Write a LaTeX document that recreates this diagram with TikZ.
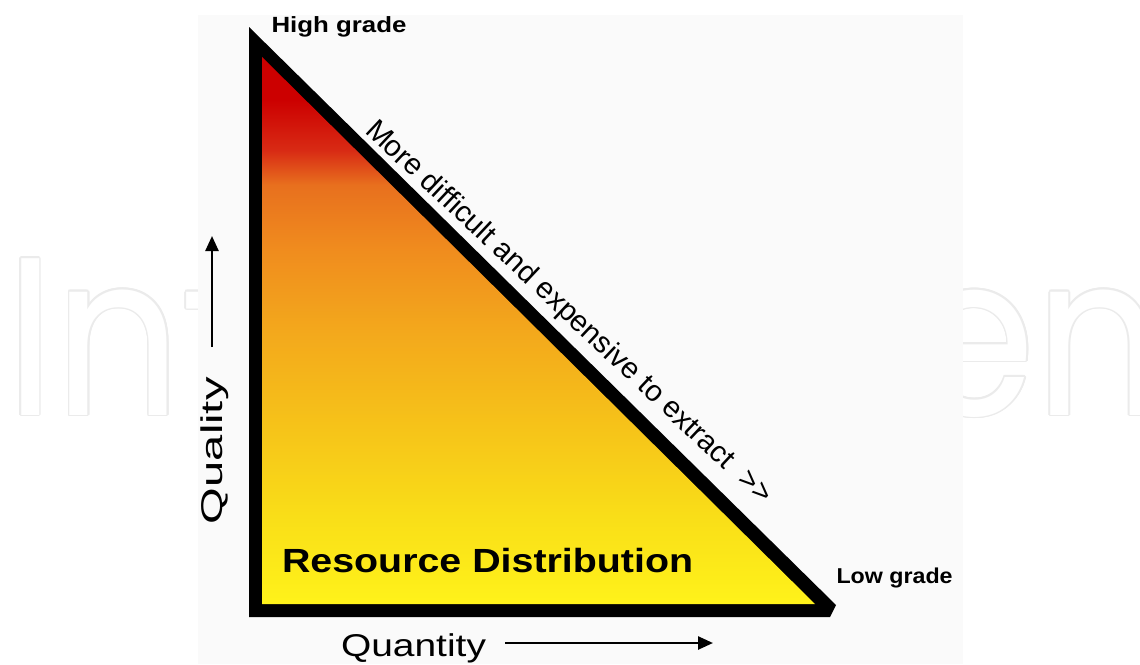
\documentclass[tikz,border=0pt]{standalone}
\usepackage{fontspec}
\usepackage{graphicx}
\setmainfont{Liberation Sans}
\newfontfamily\wmfont{Poppins}
\usetikzlibrary{arrows.meta}
\definecolor{gred}{HTML}{CC0000}
\definecolor{gred2}{HTML}{D82A14}
\definecolor{gor1}{HTML}{E8701E}
\definecolor{gor2}{HTML}{F08C1E}
\definecolor{gor3}{HTML}{F3A81C}
\definecolor{gyl1}{HTML}{F6C419}
\definecolor{gyl2}{HTML}{F9DF18}
\definecolor{gyl3}{HTML}{FFF21A}
\definecolor{panelc}{HTML}{FAFAFA}
\definecolor{wmgray}{HTML}{EBEBEB}
\pgfdeclareverticalshading{resgrad}{100bp}{color(0bp)=(gyl3); color(25bp)=(gyl3); color(32.7bp)=(gyl2); color(40.9bp)=(gyl1); color(50bp)=(gor3); color(57.4bp)=(gor2); color(63.3bp)=(gor1); color(66.5bp)=(gred2); color(71.1bp)=(gred); color(75bp)=(gred); color(100bp)=(gred)}
\tikzset{
  lbl/.style={inner sep=0pt, outer sep=0pt, anchor=base west, text=black},
  wm/.style={inner sep=0pt, outer sep=0pt, anchor=base west, font=\wmfont\fontsize{225}{225}\selectfont},
  axarrow/.style={line width=2.5pt, -{Triangle[length=15pt,width=13pt]}}
}
\begin{document}
\begin{tikzpicture}[x=1pt,y=-1pt]
\useasboundingbox (0,0) rectangle (1140,664);
\fill[white] (0,0) rectangle (1140,664);
% watermark (outlined)
\foreach \a [count=\i] in {0,30,...,330}
  \node[wm, text=wmgray] (wm\i) at ([shift={(\a:1.6)}]6,415) {\scalebox{0.88}[1]{IntechOpen}};
\node[wm, text=white] (wm) at (6,415) {\scalebox{0.88}[1]{IntechOpen}};
% panel
\fill[panelc] (198,15) rectangle (963,664);
% triangle
\fill[black] (249,27) -- (249,617) -- (830,617) -- (836,605) -- cycle;
\shade[shading=resgrad] (262,57) -- (262,604) -- (815,604) -- cycle;
% labels
\node[lbl, font=\bfseries\fontsize{22}{22}\selectfont] (high) at (271.5,32) {\scalebox{1.175}[1]{High grade}};
\node[lbl, font=\bfseries\fontsize{21.5}{21.5}\selectfont] (low) at (836.5,583) {\scalebox{1.08}[1]{Low grade}};
\node[lbl, font=\bfseries\fontsize{33.5}{33.5}\selectfont] (res) at (282,572) {\scalebox{1.175}[1]{Resource Distribution}};
\node[lbl, rotate=-43.2, font=\fontsize{29.5}{29.5}\selectfont] (slope) at (364,132) {More difficult and expensive to extract\ \ >\kern0pt>};
\node[lbl, font=\fontsize{31.5}{31.5}\selectfont] (quant) at (341,656) {\scalebox{1.236}[1]{Quantity}};
\node[lbl, rotate=90, font=\fontsize{30}{30}\selectfont] (qual) at (222,524) {\scalebox{1.57}[1]{Quality}};
% axis arrows
\coordinate (qa1) at (212,347);
\coordinate (qa2) at (212,236);
\draw[axarrow] (qa1) -- (qa2);
\coordinate (qn1) at (505,643);
\coordinate (qn2) at (713,643);
\draw[axarrow] (qn1) -- (qn2);
\end{tikzpicture}
\end{document}
